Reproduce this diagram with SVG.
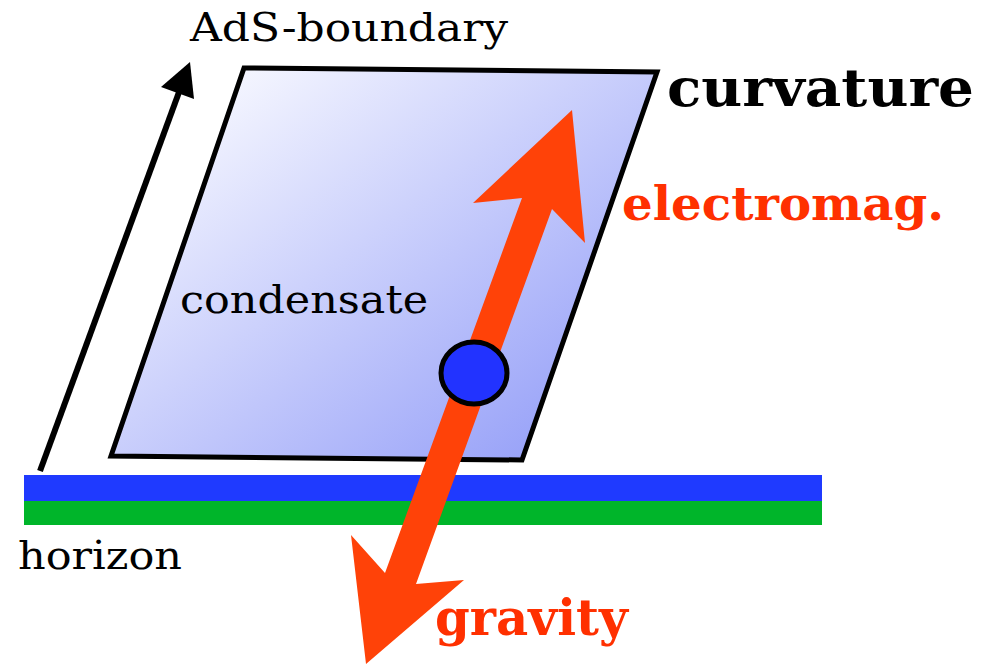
<svg xmlns="http://www.w3.org/2000/svg" width="993" height="664" viewBox="0 0 993 664">
  <style>
    .serif { font-family: "DejaVu Serif", "Liberation Serif", serif; fill: #000; }
    .bold { font-family: "DejaVu Serif", "Liberation Serif", serif; font-weight: bold; }
    .red { fill: #ff3000; }
  </style>
  <defs>
    <linearGradient id="condGrad" gradientUnits="userSpaceOnUse" x1="230" y1="60" x2="540" y2="470">
      <stop offset="0" stop-color="#f7f8ff"/>
      <stop offset="1" stop-color="#96a0f8"/>
    </linearGradient>
  </defs>
  <rect width="993" height="664" fill="#ffffff"/>

  <g id="horizon">
    <rect x="24" y="475" width="798" height="26" fill="#1f3aff"/>
    <rect x="24" y="501" width="798" height="24" fill="#00b52a"/>
    <text class="serif" x="18" y="569" font-size="40" textLength="164" lengthAdjust="spacingAndGlyphs">horizon</text>
  </g>

  <g id="condensate">
    <polygon points="244,68 657,72 522,460 111,456" fill="url(#condGrad)" stroke="#000" stroke-width="5" stroke-linejoin="miter"/>
    <text class="serif" x="180" y="313" font-size="40" textLength="248" lengthAdjust="spacingAndGlyphs">condensate</text>
  </g>

  <g id="connectors">
    <g id="ads-axis">
      <line x1="40" y1="471" x2="182" y2="84" stroke="#000" stroke-width="6"/>
      <polygon points="190,62 161,87 194,99" fill="#000"/>
    </g>
    <g id="red-arrow">
      <polygon points="572,110 585,243 552,209 416,584 464,580 366,664 351,535 385,573 522,198 473,203" fill="#ff4208"/>
    </g>
  </g>

  <g id="particle">
    <ellipse cx="474" cy="373" rx="33" ry="31" fill="#2233ff" stroke="#000" stroke-width="5"/>
  </g>

  <g id="labels">
    <text class="serif" x="190" y="41" font-size="40" textLength="318" lengthAdjust="spacingAndGlyphs">AdS-boundary</text>
    <text class="bold" x="667" y="106" font-size="52" fill="#000" textLength="307" lengthAdjust="spacingAndGlyphs">curvature</text>
    <text class="bold red" x="622" y="220" font-size="47" textLength="322" lengthAdjust="spacingAndGlyphs">electromag.</text>
    <text class="bold red" x="435" y="635" font-size="50" textLength="193" lengthAdjust="spacingAndGlyphs">gravity</text>
  </g>
</svg>
